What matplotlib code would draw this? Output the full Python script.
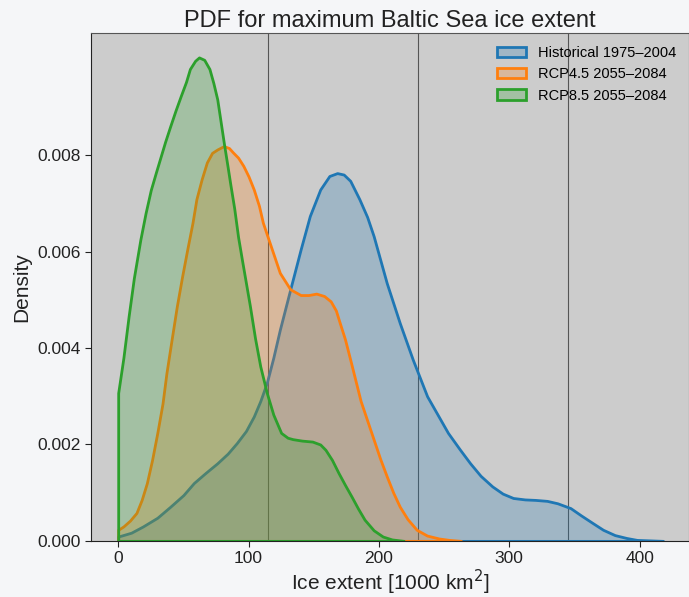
import matplotlib
matplotlib.use("Agg")
import matplotlib.pyplot as plt
from matplotlib.patches import Patch
from matplotlib.colors import to_rgba

plt.rcParams['font.family'] = ['Liberation Sans', 'DejaVu Sans']

### Data ###
labels = ["Historical 1975\u20132004", "RCP4.5 2055\u20132084", "RCP8.5 2055\u20132084"]
colors = ["#1f77b4", "#ff7f0e", "#2ca02c"]

hist_x = [0, 10, 19, 30, 40, 50, 58, 67, 76, 84, 91, 98, 104, 109, 114, 119, 124, 132, 140,
          147, 155, 162, 168, 173, 178, 185, 191, 196, 206, 216, 226, 237, 245, 253, 262, 270,
          278, 287, 295, 303, 312, 320, 329, 337, 347, 355, 364, 372, 381, 390, 398, 408, 418]
hist_y = [0.00009, 0.00017, 0.0003, 0.00048, 0.00071, 0.00095, 0.0012, 0.00141, 0.00161,
          0.00181, 0.00203, 0.00228, 0.00258, 0.00290, 0.00328, 0.00380, 0.00438, 0.00522,
          0.00605, 0.00674, 0.00729, 0.00757, 0.00763, 0.00760, 0.00747, 0.00709, 0.00672,
          0.00632, 0.00535, 0.00452, 0.00376, 0.00300, 0.00262, 0.00224, 0.00190, 0.00161,
          0.00135, 0.00113, 0.00098, 0.00089, 0.00086, 0.00085, 0.00083, 0.00078, 0.00068,
          0.00053, 0.00037, 0.00023, 0.00012, 0.00006, 0.00002, 0.00001, 0.0]

rcp45_x = [0, 4, 9, 14, 18, 22, 26, 30, 34, 37, 41, 45, 49, 53, 57, 60, 64, 68, 72, 76,
           81, 85, 88, 92, 96, 100, 104, 108, 111, 117, 124, 132, 140, 146, 152, 158, 163,
           167, 170, 174, 178, 182, 186, 191, 196, 201, 206, 211, 216, 222, 229, 237, 246, 254, 263]
rcp45_y = [0.00023, 0.0003, 0.00042, 0.00058, 0.00085, 0.0012, 0.00168, 0.00224, 0.00285,
           0.00348, 0.00418, 0.00487, 0.00548, 0.00605, 0.00660, 0.00709, 0.00750, 0.00785,
           0.00805, 0.00812, 0.00819, 0.00815, 0.00806, 0.00795, 0.00778, 0.00756, 0.00729,
           0.00695, 0.00660, 0.00612, 0.00556, 0.00522, 0.00510, 0.00510, 0.00513, 0.00508,
           0.00497, 0.00478, 0.00452, 0.00418, 0.00376, 0.00333, 0.00290, 0.00250, 0.00210,
           0.00170, 0.00134, 0.00100, 0.00071, 0.00045, 0.00023, 0.00011, 0.00005, 0.00002, 0.0]

rcp85_x = [0, 0, 4, 8, 12, 17, 21, 25, 29, 32, 36, 40, 44, 48, 52, 55, 59, 62, 66, 70, 73,
           76, 78, 81, 84, 86, 89, 92, 95, 98, 101, 105, 109, 114, 119, 125, 130, 134, 141,
           149, 155, 159, 164, 169, 174, 179, 184, 189, 196, 203, 210, 219]
rcp85_y = [0, 0.00307, 0.0038, 0.00466, 0.00545, 0.00625, 0.00680, 0.00728, 0.00765, 0.00792,
           0.00828, 0.00861, 0.00893, 0.00923, 0.00952, 0.00979, 0.00996, 0.01003, 0.00998,
           0.00979, 0.00950, 0.00916, 0.00880, 0.00826, 0.00775, 0.00740, 0.00690, 0.00630,
           0.00582, 0.00535, 0.00488, 0.00420, 0.00362, 0.00307, 0.00262, 0.00224, 0.00214,
           0.00211, 0.00208, 0.00206, 0.00200, 0.00189, 0.00168, 0.00141, 0.00116, 0.00092,
           0.00067, 0.00044, 0.00022, 0.00009, 0.00003, 0.0]

vlines = [115, 230, 345]
yticks = [0.000, 0.002, 0.004, 0.006, 0.008]

### Plot ###
fig = plt.figure(figsize=(6.89, 5.97), dpi=100)
fig.patch.set_facecolor("#f5f6f8")
ax = fig.add_axes([0.132, 0.094, 0.868, 0.851])
ax.set_facecolor("#cccccc")

for xv in vlines:
    ax.axvline(xv, color="#555555", lw=0.8, zorder=0.5)

series = [(hist_x, hist_y), (rcp45_x, rcp45_y), (rcp85_x, rcp85_y)]
for (xs, ys), c in zip(series, colors):
    ax.fill_between(xs, ys, 0, facecolor=to_rgba(c, 0.25), edgecolor=c, lw=2)

ax.set_xlim(-20.9, 437.9)
ax.set_ylim(0, 0.01054)
ax.set_yticks(yticks)
ax.set_yticklabels([f"{t:.3f}" for t in yticks])
ax.set_xticks([0, 100, 200, 300, 400])
ax.tick_params(labelsize=12.5, colors="#222222", length=4)

for s in ax.spines.values():
    s.set_color("#555555")
    s.set_linewidth(0.8)
ax.spines["bottom"].set_color("#222222")
ax.spines["left"].set_color("#222222")

ax.set_title("PDF for maximum Baltic Sea ice extent", fontsize=17, color="#222222", pad=4)
ax.set_xlabel("Ice extent [1000 km$^2$]", fontsize=15, color="#222222", labelpad=1)
ax.set_ylabel("Density", fontsize=15, color="#222222")

handles = [Patch(facecolor=to_rgba(c, 0.25), edgecolor=c, lw=2) for c in colors]
ax.legend(handles, labels, loc="upper right", frameon=False, fontsize=10.5)

plt.savefig("out.png", dpi=100, facecolor=fig.get_facecolor())
